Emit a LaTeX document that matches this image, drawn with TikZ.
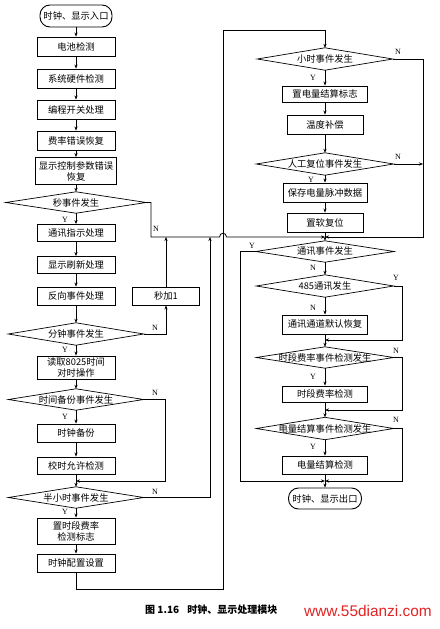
\documentclass[tikz,border=0pt]{standalone}
\usepackage{fontspec}
\newfontfamily\cjk{Noto Sans CJK SC}
\newfontfamily\lat{Liberation Serif}
\newfontfamily\wmfont{Liberation Sans}
\usetikzlibrary{arrows.meta}
\definecolor{wmred}{RGB}{225,35,35}
\newcommand\diadraw[1]{\draw[line width=0.7pt] (#1.west)--(#1.north)--(#1.east)--(#1.south)--cycle;}
\begin{document}
\begin{tikzpicture}[x=1pt,y=-1pt,
  font=\cjk\fontsize{9.3}{11}\selectfont,
  box/.style={draw, line width=0.9pt, inner sep=0pt, minimum width=78pt, minimum height=19pt, align=center},
  dtext/.style={inner sep=0pt, minimum width=135pt, minimum height=22pt},
  term/.style={draw, line width=0.9pt, rounded corners=10pt, inner sep=0pt, minimum width=72pt, minimum height=22pt},
  yn/.style={font=\lat\fontsize{8}{8}\selectfont, inner sep=0pt},
  arr/.style={-{Stealth[length=4pt,width=3.2pt]}, line width=0.8pt},
  ln/.style={line width=0.8pt},
]
\fill[white] (0,0) rectangle (439,629);
\useasboundingbox (0,0) rectangle (439,629);

% left column
\node[term] (start) at (76,16) {时钟、显示入口};
\node[box] (b1) at (76,46.5) {电池检测};
\node[box] (b2) at (76,78.5) {系统硬件检测};
\node[box] (b3) at (76,109.5) {编程开关处理};
\node[box] (b4) at (76,140.5) {费率错误恢复};
\node[box, minimum height=27pt, minimum width=81pt] (b5) at (76,171) {显示控制参数错误\\恢复};
\node[dtext, minimum width=140pt, minimum height=21pt] (d1) at (76,202.5) {秒事件发生};
\node[box, minimum height=17pt] (b6) at (76,233) {通讯指示处理};
\node[box, minimum height=17pt] (b7) at (76,265) {显示刷新处理};
\node[box, minimum height=18pt] (b8) at (76,296) {反向事件处理};
\node[box, minimum width=67pt, minimum height=18pt] (s1) at (166,296) {秒加1};
\node[dtext] (d2) at (76,334) {分钟事件发生};
\node[box, minimum height=23pt] (b9) at (76,367.5) {读取8025时间\\对时操作};
\node[dtext, minimum height=21pt] (d3) at (76,399.5) {时间备份事件发生};
\node[box, minimum height=18pt] (b10) at (76,433) {时钟备份};
\node[box, minimum height=17pt] (b11) at (76,465.5) {校时允许检测};
\node[dtext, minimum height=21pt] (d4) at (76,497.5) {半小时事件发生};
\node[box, minimum height=26pt] (b12) at (76,531) {置时段费率\\检测标志};
\node[box, minimum height=18pt] (b13) at (76,563) {时钟配置设置};

% right column
\node[dtext] (d5) at (325,59) {小时事件发生};
\node[box, minimum width=85pt, minimum height=16pt] (r1) at (325,94) {置电量结算标志};
\node[box, minimum width=76pt] (r2) at (325,124.5) {温度补偿};
\node[dtext, minimum width=137pt] (d6) at (325,164) {人工复位事件发生};
\node[box, minimum width=84pt] (r3) at (325,192.5) {保存电量脉冲数据};
\node[box, minimum width=76pt] (r4) at (325,222.5) {置软复位};
\node[dtext, minimum width=138pt, minimum height=21pt] (d7) at (325,251.5) {通讯事件发生};
\node[dtext, minimum width=137pt] (d8) at (325,286) {485通讯发生};
\node[box, minimum width=85pt] (r5) at (325,324.5) {通讯通道默认恢复};
\node[dtext, minimum width=137pt, minimum height=21pt] (d9) at (325,357.5) {时段费率事件检测发生};
\node[box, minimum width=85pt, minimum height=16pt] (r6) at (325,394) {时段费率检测};
\node[dtext, minimum width=137pt] (d10) at (325,428.5) {电量结算事件检测发生};
\node[box, minimum width=85pt, minimum height=18pt] (r7) at (325,465) {电量结算检测};
\node[term, minimum width=73pt, minimum height=21pt] (end) at (325,498.5) {时钟、显示出口};

\foreach \d in {d1,d2,d3,d4,d5,d6,d7,d8,d9,d10} {\diadraw{\d}}

\coordinate (jL) at (76,481);
\coordinate (jA) at (325,237);
\coordinate (jB) at (325,340);
\coordinate (jC) at (325,410);
\coordinate (jD) at (325,481);

% left connectors
\draw[arr] (start.south) -- (b1.north);
\draw[arr] (b1.south) -- (b2.north);
\draw[arr] (b2.south) -- (b3.north);
\draw[arr] (b3.south) -- (b4.north);
\draw[arr] (b4.south) -- (b5.north);
\draw[arr] (b5.south) -- (d1.north);
\draw[arr] (d1.south) -- (b6.north);
\draw[arr] (b6.south) -- (b7.north);
\draw[arr] (b7.south) -- (b8.north);
\draw[arr] (b8.south) -- (d2.north);
\draw[arr] (d2.south) -- (b9.north);
\draw[arr] (b9.south) -- (d3.north);
\draw[arr] (d3.south) -- (b10.north);
\draw[arr] (b10.south) -- (b11.north);
\draw[arr] (b11.south) -- (d4.north);
\draw[arr] (d4.south) -- (b12.north);
\draw[arr] (b12.south) -- (b13.north);

\draw[arr] (d2.east) -| (s1.south);
\draw[arr] (s1.north) -- (s1.north |- jA);
\draw[arr] (d3.east) -- (165,399.5) |- (jL);
\draw[arr] (d4.east) -| (210,237);
\draw[arr] (d1.east) -- (151,202.5) -- (151,237) -- (219.5,237)
   .. controls (219.5,232) and (226.5,232) .. (226.5,237) -- (jA);
\draw[arr] (b13.south) -- (76,589) -- (223,589) -- (223,30) -- (325,30) -- (d5.north);

% right connectors
\draw[arr] (d5.south) -- (r1.north);
\draw[arr] (r1.south) -- (r2.north);
\draw[arr] (r2.south) -- (d6.north);
\draw[arr] (d6.south) -- (r3.north);
\draw[arr] (r3.south) -- (r4.north);
\draw[arr] (r4.south) -- (d7.north);
\draw[arr] (d5.east) -- (423,59) |- (jA);
\draw[arr] (d6.east) -- (423,164);
\draw[arr] (d7.west) -- (240,251.5) |- (jD);
\draw[arr] (d7.south) -- (d8.north);
\draw[arr] (d8.east) -- (402,286) |- (jB);
\draw[arr] (d8.south) -- (r5.north);
\draw[arr] (r5.south) -- (d9.north);
\draw[arr] (d9.east) -- (402,357.5) |- (jC);
\draw[arr] (d9.south) -- (r6.north);
\draw[arr] (r6.south) -- (d10.north);
\draw[arr] (d10.east) -- (402,428.5) |- (jD);
\draw[arr] (d10.south) -- (r7.north);
\draw[arr] (r7.south) -- (end.north);

% Y / N labels
\node[yn] (y1) at (65,220) {Y};
\node[yn] (y2) at (65,350) {Y};
\node[yn] (y3) at (65,417) {Y};
\node[yn] (y4) at (65,512) {Y};
\node[yn] (n1) at (156,229) {N};
\node[yn] (n2) at (155,328) {N};
\node[yn] (n3) at (155,393) {N};
\node[yn] (n4) at (155,492) {N};
\node[yn] (n5) at (398,52) {N};
\node[yn] (y5) at (313,78) {Y};
\node[yn] (n6) at (398,157) {N};
\node[yn] (y6) at (311,180) {Y};
\node[yn] (y7) at (252,246) {Y};
\node[yn] (n7) at (313,268) {N};
\node[yn] (y8) at (396,278) {Y};
\node[yn] (n8) at (313,308) {N};
\node[yn] (n9) at (396,351) {N};
\node[yn] (y9) at (313,377) {Y};
\node[yn] (n10) at (396,420) {N};
\node[yn] (y10) at (313,447) {Y};

% caption and watermark
\node[font=\cjk\bfseries\fontsize{10}{12}\selectfont, anchor=west, inner sep=0pt] (cap) at (145,610) {图 1.16\hspace{8pt}时钟、显示处理模块};
\node[font=\wmfont\fontsize{15.4}{16}\selectfont, text=wmred, anchor=west, inner sep=0pt] (wm) at (304,611) {www.55dianzi.com};
\end{tikzpicture}
\end{document}
